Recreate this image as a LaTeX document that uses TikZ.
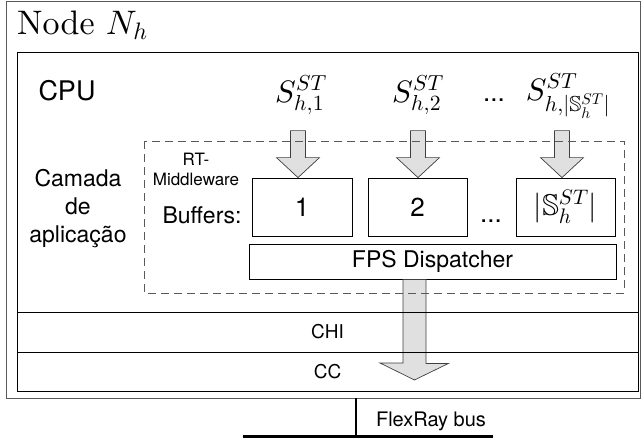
\documentclass[tikz,border=0pt]{standalone}
\usepackage{amsmath}
\usepackage{amssymb}
\DeclareFontShape{OML}{cmm}{m}{it}{<-6>cmmi5<6-7>cmmi6<7-8>cmmi7<8-9>cmmi8<9-10>cmmi9<10->cmmi10}{}
\DeclareFontShape{OMS}{cmsy}{m}{n}{<-6>cmsy5<6-7>cmsy6<7-8>cmsy7<8-9>cmsy8<9-10>cmsy9<10->cmsy10}{}
\DeclareFontShape{OT1}{cmr}{m}{n}{<-6>cmr5<6-7>cmr6<7-8>cmr7<8-9>cmr8<9-10>cmr9<10->cmr10}{}
\DeclareFontFamily{U}{msb}{}
\DeclareFontShape{U}{msb}{m}{n}{<-6>msbm5<6-8>msbm7<8->msbm10}{}
\usepackage{fontspec}
\setsansfont{TeX Gyre Heros}
\newfontfamily\titlefont{lmroman10-regular}[Extension=.otf]
\usetikzlibrary{positioning,calc}

\tikzset{
  frame/.style={draw, line width=0.8pt, inner sep=0pt},
  bufbox/.style={frame, minimum height=58pt, font=\sffamily\fontsize{26}{30}\selectfont},
  lbl/.style={inner sep=0pt, font=\sffamily\fontsize{23}{28}\selectfont},
  small/.style={inner sep=0pt, font=\sffamily\fontsize{20}{24}\selectfont},
  slot/.style={inner sep=0pt, font=\fontsize{31}{34}\selectfont},
  flow/.style={draw=black!75, line width=0.7pt, fill=black!12, line join=miter},
}

\begin{document}
\begin{tikzpicture}[x=1pt, y=-1pt]
    \useasboundingbox (0,0) rectangle (641,442);

    % Node and CPU frames
    \node[frame, draw=black!65, minimum width=634, minimum height=397] (node) at (323,199.5) {};
    \node[anchor=base west, inner sep=0pt, font=\titlefont\fontsize{34}{38}\selectfont] (title) at (17,34) {Node $N_h$};
    \node[frame, minimum width=621, minimum height=339] (cpu) at (327.5,221.5) {};
    \node[lbl, font=\sffamily\fontsize{27}{32}\selectfont] (cpulbl) at (67,91) {CPU};
    \node[lbl, align=center, font=\sffamily\fontsize{23}{28}\selectfont] (app) at (78,209) {Camada\\de\\aplicação};

    % Streams
    \node[slot, anchor=base] (s1) at (301,102) {$S^{ST}_{h,1}$};
    \node[slot, anchor=base] (s2) at (418,102) {$S^{ST}_{h,2}$};
    \node[slot, anchor=base] (s3) at (568,100) {$S^{ST}_{h,|\mathbb{S}^{ST}_h|}$};
    \node[lbl, anchor=base, font=\sffamily\fontsize{26}{30}\selectfont] (sdots) at (494,101) {...};

    % Buffers and dispatcher
    \node[bufbox, minimum width=100] (buf1) at (302,207) {1};
    \node[bufbox, minimum width=99] (buf2) at (417.5,207) {2};
    \node[bufbox, minimum width=99, font=\fontsize{30}{34}\selectfont] (buf3) at (565.5,207) {$|\mathbb{S}^{ST}_h|$};
    \node[lbl, anchor=base, font=\sffamily\fontsize{26}{30}\selectfont] (bdots) at (491,222) {...};
    \node[frame, minimum width=367, minimum height=35, font=\sffamily\fontsize{23}{28}\selectfont] (fps) at (432.5,261.5) {FPS Dispatcher};
    \node[lbl] (buflbl) at (202,215) {Buffers:};
    \node[inner sep=0pt, align=center, font=\sffamily\fontsize{17}{20}\selectfont] (rtm) at (196,169) {RT-\\Middleware};

    % Block arrows into the buffers
    \foreach \b/\dx in {buf1/-4, buf2/0.5, buf3/-3.5}
        \draw[flow] ($(\b.north)+(\dx,0)$) -- ++(-21.5,-20) -- ++(14,0) -- ++(0,-27)
            -- ++(15,0) -- ++(0,27) -- ++(14,0) -- cycle;

    % Block arrow from dispatcher to the bus
    \coordinate (out) at (414.5,380);
    \draw[flow] (out) -- ++(-34.5,-17) -- ++(23,0) |- ($(out |- fps.south)+(11.5,0)$)
        -- ++(0,84) -- ++(22.5,0) -- cycle;

    % Middleware area
    \draw[black!65, line width=0.8pt, dash pattern=on 8pt off 5pt] (144,141) rectangle (624,293);

    % Controller layers
    \node[frame, minimum width=621, minimum height=40, font=\sffamily\fontsize{19}{24}\selectfont] (chi) at (327.5,332) {CHI};
    \node[frame, minimum width=621, minimum height=39, font=\sffamily\fontsize{19}{24}\selectfont] (cc) at (327.5,371.5) {CC};

    % Bus
    \coordinate (busl) at (243,436);
    \coordinate (busr) at (493,436);
    \coordinate (tap) at (356,436);
    \draw[line width=3pt] (busl) -- (busr);
    \draw[line width=1.5pt] (tap |- node.south) -- (tap);
    \node[small] (buslbl) at (431,421) {FlexRay bus};
\end{tikzpicture}
\end{document}
